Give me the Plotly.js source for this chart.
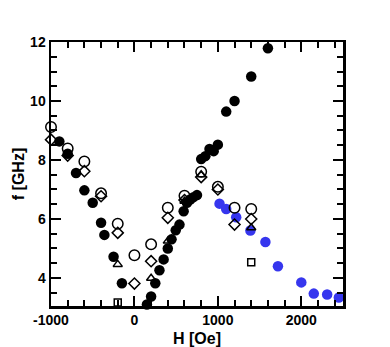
<!DOCTYPE html>
<html>
<head>
<meta charset="utf-8">
<script src="https://cdn.plot.ly/plotly-3.0.1.min.js"></script>
<style>
  html, body { margin: 0; padding: 0; background: #fff; }
  #chart { width: 390px; height: 347px; }
</style>
</head>
<body>
<div id="chart"></div>
<script>
// f(H) dispersion: filled/blue measured modes, open symbols for the other branches
const fillH = [-900, -800, -700, -600, -500, -400, -360, -250, -150,
               150, 200, 250, 300, 350, 400, 445, 495, 540, 590, 630, 668, 708, 750,
               800, 850, 900, 950, 1000, 1100, 1200, 1400, 1600];
const fillF = [8.63, 8.21, 7.56, 6.97, 6.55, 5.87, 5.46, 4.72, 3.82,
               3.10, 3.37, 3.82, 4.26, 4.63, 5.00, 5.31, 5.62, 5.81, 6.26, 6.55, 6.66, 6.74, 6.81,
               8.03, 8.13, 8.37, 8.30, 8.52, 9.64, 10.0, 10.83, 11.79];

const blueH = [1020, 1100, 1220, 1390, 1570, 1720, 2000, 2150, 2310, 2450];
const blueF = [6.52, 6.34, 6.06, 5.61, 5.22, 4.40, 3.85, 3.47, 3.44, 3.34];

const circH = [-1000, -800, -600, -400, -200, 0, 200, 400, 600, 800, 1000, 1200, 1400];
const circF = [9.12, 8.39, 7.95, 6.87, 5.84, 4.77, 5.14, 6.38, 6.79, 7.60, 7.09, 6.38, 6.34];

const diamH = [-1000, -800, -600, -400, -200, 0, 200, 400, 600, 800, 1000, 1200, 1400];
const diamF = [8.69, 8.15, 7.62, 6.77, 5.53, 3.81, 4.57, 6.04, 6.64, 7.42, 7.00, 5.81, 6.00];

const triH = [-200, 200, 400, 600, 800, 1400];
const triF = [4.46, 3.99, 5.25, 6.60, 7.50, 5.70];

const sqH = [-200, 1400];
const sqF = [3.17, 4.53];

// x tick labels use a plain hyphen like the original
const xTickVals = [-1000, 0, 1000, 2000];
const xTickText = ['-1000', '0', '1000', '2000'];

const FONT = 'Liberation Sans, Arial, Helvetica, sans-serif';
const openLine = { color: '#000', width: 1.5 };

const data = [
  { x: fillH, y: fillF, mode: 'markers', type: 'scatter', cliponaxis: false,
    marker: { symbol: 'circle', size: 10.5, color: '#000' } },
  { x: blueH, y: blueF, mode: 'markers', type: 'scatter', cliponaxis: false,
    marker: { symbol: 'circle', size: 10.5, color: '#3636ee' } },
  { x: circH, y: circF, mode: 'markers', type: 'scatter', cliponaxis: false,
    marker: { symbol: 'circle-open', size: 10.5, color: '#000', line: openLine } },
  { x: diamH, y: diamF, mode: 'markers', type: 'scatter', cliponaxis: false,
    marker: { symbol: 'diamond-open', size: 8.5, color: '#000', line: openLine } },
  { x: triH, y: triF, mode: 'markers', type: 'scatter', cliponaxis: false,
    marker: { symbol: 'triangle-up-open', size: 8, color: '#000', line: openLine } },
  { x: sqH, y: sqF, mode: 'markers', type: 'scatter', cliponaxis: false,
    marker: { symbol: 'square-open', size: 7, color: '#000', line: openLine } },
];

const axisBase = {
  showline: true, linecolor: '#000', linewidth: 2.5, mirror: 'allticks',
  ticks: 'inside', ticklen: 10, tickwidth: 2, tickcolor: '#000',
  showgrid: false, zeroline: false,
  tickfont: { family: FONT, size: 14, color: '#000', weight: 'bold' },
};

const layout = {
  width: 390, height: 347,
  margin: { l: 51, r: 47, t: 42, b: 41 },
  paper_bgcolor: '#fff', plot_bgcolor: '#fff',
  showlegend: false,
  xaxis: Object.assign({}, axisBase, {
    range: [-1000, 2500], tickmode: 'array', tickvals: xTickVals, ticktext: xTickText,
    minor: { tickmode: 'linear', tick0: 0, dtick: 200, ticks: 'inside', ticklen: 6, tickwidth: 2, tickcolor: '#000' },
    title: { text: 'H [Oe]', standoff: 6, font: { family: FONT, size: 16, color: '#000', weight: 'bold' } },
  }),
  yaxis: Object.assign({}, axisBase, {
    range: [3.05, 12], dtick: 2, tick0: 0,
    minor: { dtick: 0.5, ticks: 'inside', ticklen: 6, tickwidth: 2, tickcolor: '#000' },
    title: { text: 'f [GHz]', standoff: 2, font: { family: FONT, size: 16, color: '#000', weight: 'bold' } },
  }),
};

Plotly.newPlot('chart', data, layout, { staticPlot: true, displayModeBar: false });
</script>
</body>
</html>
